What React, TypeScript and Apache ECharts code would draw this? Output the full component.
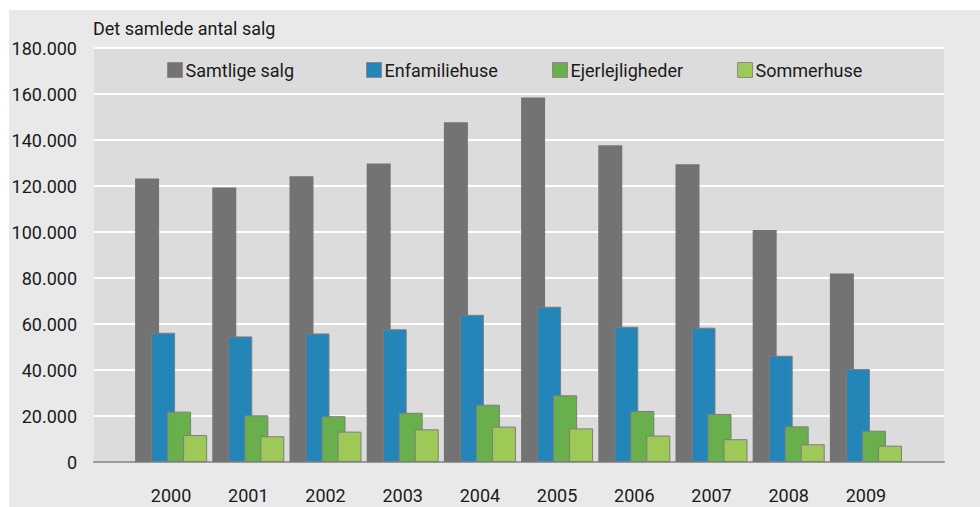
import React, { useEffect, useRef } from "react";
import * as echarts from "echarts";

const years = ["2000", "2001", "2002", "2003", "2004", "2005", "2006", "2007", "2008", "2009"];
const seriesNames = ["Samtlige salg", "Enfamiliehuse", "Ejerlejligheder", "Sommerhuse"];
const samtligeSalg = [123300, 119400, 124200, 129800, 147700, 158500, 137700, 129500, 100900, 82000];
const enfamiliehuse = [56200, 54600, 55900, 57700, 64000, 67500, 58800, 58400, 46200, 40400];
const ejerlejligheder = [21900, 20300, 19900, 21400, 24900, 29000, 22200, 20900, 15500, 13600];
const sommerhuse = [11700, 11200, 13200, 14200, 15400, 14600, 11500, 9900, 7700, 7100];
const colors = ["#737373", "#2485b9", "#69b04c", "#9fc956"];
const titleText = "Det samlede antal salg";

const fmt = (v: number) => String(v).replace(/\B(?=(\d{3})+(?!\d))/g, ".");

export default function App() {
  const ref = useRef<HTMLDivElement>(null);
  useEffect(() => {
    if (!ref.current) return;
    const chart = echarts.init(ref.current, null, { renderer: "svg" });
    const values = [samtligeSalg, enfamiliehuse, ejerlejligheder, sommerhuse];
    const legendLefts = [167, 366, 552, 737];
    chart.setOption({
      animation: false,
      backgroundColor: "transparent",
      textStyle: { fontFamily: "Roboto", color: "#1a1a1a" },
      title: {
        text: titleText,
        left: 88,
        top: 14,
        textStyle: { fontSize: 18, fontWeight: "normal", color: "#1a1a1a", fontFamily: "Roboto" },
      },
      legend: seriesNames.map((n, i) => ({
        data: [n],
        left: legendLefts[i],
        top: 61,
        icon: "rect",
        itemWidth: 15,
        itemHeight: 15,
        itemGap: 5,
        padding: 0,
        selectedMode: false,
        itemStyle: { borderColor: "#8a8a8a", borderWidth: 1 },
        textStyle: { fontSize: 18, color: "#1a1a1a", fontFamily: "Roboto", padding: [0, 0, 0, -2] },
      })),
      grid: [
        { left: 94, right: 36, top: 48, bottom: 45, show: true, backgroundColor: "#dcdcdc", borderWidth: 0 },
        { left: 132.5, right: 75.5, top: 48, bottom: 45 },
      ],
      xAxis: [
        {
          gridIndex: 0,
          type: "value",
          min: 0,
          max: 1,
          axisLabel: { show: false },
          axisTick: { show: false },
          splitLine: { show: false },
          axisLine: { show: true, lineStyle: { color: "#9a9a9a", width: 2 } },
        },
        {
          gridIndex: 1,
          type: "category",
          data: years,
          axisLine: { show: false },
          axisTick: { show: false },
          axisLabel: { fontSize: 18, color: "#1a1a1a", margin: 24, fontFamily: "Roboto" },
        },
      ],
      yAxis: [
        {
          gridIndex: 0,
          type: "value",
          min: 0,
          max: 180000,
          interval: 20000,
          axisLine: { show: false },
          axisTick: { show: false },
          axisLabel: { fontSize: 18, color: "#1a1a1a", margin: 17, formatter: (v: number) => fmt(v), fontFamily: "Roboto" },
          splitLine: { show: true, lineStyle: { color: "#ffffff", width: 2 } },
        },
        {
          gridIndex: 1,
          type: "value",
          min: 0,
          max: 180000,
          interval: 20000,
          show: false,
          splitLine: { show: false },
        },
      ],
      series: seriesNames.map((n, i) => ({
        name: n,
        type: "bar",
        xAxisIndex: 1,
        yAxisIndex: 1,
        data: values[i],
        barWidth: 24,
        barGap: "-33.3%",
        itemStyle: {
          color: colors[i],
          borderColor: i === 0 ? "#6a6a6a" : "#7d7d7d",
          borderWidth: i === 0 ? 0 : 1,
        },
      })),
    });
    return () => chart.dispose();
  }, []);
  return (
    <div style={{ position: "absolute", left: 0, top: 0, width: 980, height: 507, background: "#ffffff" }}>
      <div style={{ position: "absolute", left: 9, top: 10, right: 0, bottom: 0, background: "#e9e9e9" }} />
      <div ref={ref} style={{ position: "absolute", left: 0, top: 0, width: 980, height: 507 }} />
    </div>
  );
}
